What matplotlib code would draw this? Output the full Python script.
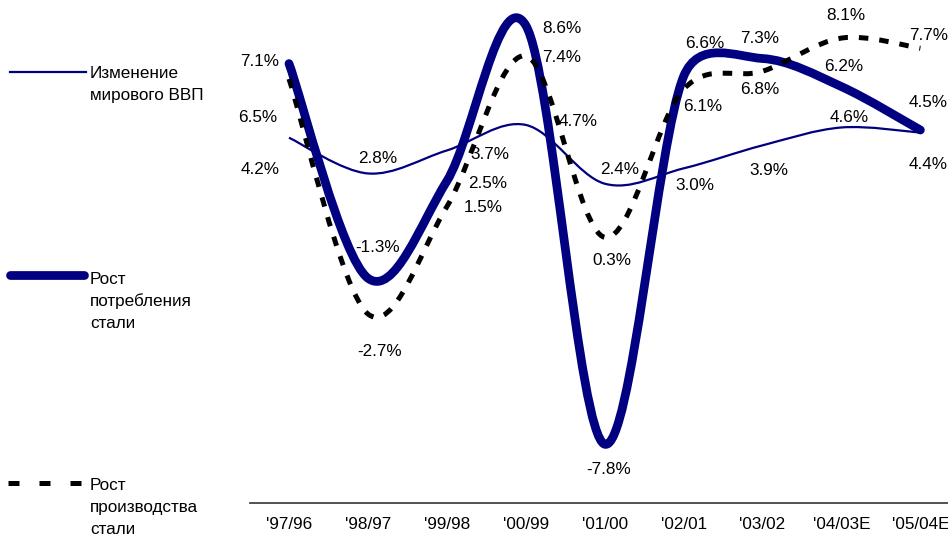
import matplotlib
matplotlib.use("Agg")
import math
import matplotlib.pyplot as plt
from matplotlib.path import Path
from matplotlib.patches import PathPatch
from matplotlib.lines import Line2D

plt.rcParams['font.family'] = ['Liberation Sans', 'DejaVu Sans']

categories = ["'97/96", "'98/97", "'99/98", "'00/99", "'01/00", "'02/01", "'03/02", "'04/03E", "'05/04E"]
gdp = [4.2, 2.8, 3.7, 4.7, 2.4, 3.0, 3.9, 4.6, 4.4]
consumption = [7.1, -1.3, 2.5, 8.6, -7.8, 6.6, 7.3, 6.2, 4.5]
production = [6.5, -2.7, 1.5, 7.4, 0.3, 6.1, 6.8, 8.1, 7.7]

legend_gdp = "Изменение\nмирового ВВП"
legend_cons = "Рост\nпотребления\nстали"
legend_prod = "Рост\nпроизводства\nстали"

# label offsets in pixels (dx right, dy down)
off_gdp = [(-29, 32), (10, -15), (43, 4), (52, -3), (15, -14), (11, 17), (6, 25), (8, -10), (8, 32)]
off_cons = [(-29, -2), (10, -31), (41, 2), (36, 3), (4, 25), (21, -33), (-3, -20), (2, -20), (8, -28)]
off_prod = [(-31, 39), (12, 38), (36, 1), (36, 2), (7, 23), (19, 17), (-3, 18), (4, -23), (8, -13)]

FS = 12.3
W, H = 948, 537
fig = plt.figure(figsize=(W / 100, H / 100), dpi=100)
ax = fig.add_axes([250 / W, (H - 503) / H, (W - 250) / W, 503 / H])
ax.set_xlim(-0.494, 8.35)
ax.set_ylim(-10.1, 9.59)
for s in ['top', 'right', 'left']:
    ax.spines[s].set_visible(False)
ax.spines['bottom'].set_color('#444444')
ax.spines['bottom'].set_linewidth(1.3)
ax.set_yticks([])
ax.set_xticks(range(len(categories)))
ax.set_xticklabels(categories, fontsize=FS)
ax.tick_params(axis='x', length=0, pad=10)


def smooth_path(xs, ys):
    # Excel-like smoothing: Catmull-Rom Bezier (1/6) with control length capped at half the segment
    tr = ax.transData
    P = [tuple(p) for p in tr.transform(list(zip(xs, ys)))]
    n = len(P)

    def dist(a, b):
        return math.hypot(b[0] - a[0], b[1] - a[1])

    verts = [P[0]]
    codes = [Path.MOVETO]
    for i in range(n - 1):
        p0 = P[i - 1] if i > 0 else P[i]
        p1 = P[i]
        p2 = P[i + 1]
        p3 = P[i + 2] if i + 2 < n else P[i + 1]
        d12 = dist(p1, p2)
        d02 = dist(p0, p2)
        d13 = dist(p1, p3)
        f0 = 1 / 6
        f3 = 1 / 6
        if d02 > 0 and d02 / 6 >= d12 / 2:
            f0 = d12 / d02 / 2
        if d13 > 0 and d13 / 6 >= d12 / 2:
            f3 = d12 / d13 / 2
        c1 = (p1[0] + (p2[0] - p0[0]) * f0, p1[1] + (p2[1] - p0[1]) * f0)
        c2 = (p2[0] - (p3[0] - p1[0]) * f3, p2[1] - (p3[1] - p1[1]) * f3)
        verts += [c1, c2, p2]
        codes += [Path.CURVE4] * 3
    inv = tr.inverted()
    return Path(inv.transform(verts), codes)


xs = list(range(len(categories)))
navy = '#000080'

ax.add_patch(PathPatch(smooth_path(xs, gdp), fill=False, edgecolor=navy, lw=1.6, zorder=2))
ax.add_patch(PathPatch(smooth_path(xs, consumption), fill=False, edgecolor=navy, lw=6.3,
                       capstyle='round', joinstyle='round', zorder=3))
ax.add_patch(PathPatch(smooth_path(xs, production), fill=False, edgecolor='black', lw=3.6,
                       linestyle=(0, (1.9, 2.2)), capstyle='butt', zorder=4))

for series, offs in ((gdp, off_gdp), (consumption, off_cons), (production, off_prod)):
    for i, (v, (dx, dy)) in enumerate(zip(series, offs)):
        ax.annotate(f"{v:.1f}%", xy=(i, v), xytext=(dx, -dy), textcoords='offset pixels',
                    ha='center', va='center', fontsize=FS, color='black', zorder=5)


def fx(x):
    return x / W


def fy(y):
    return 1 - y / H


fig.add_artist(Line2D([fx(10), fx(86)], [fy(72), fy(72)], color=navy, lw=1.6))
fig.add_artist(Line2D([fx(10), fx(84)], [fy(275), fy(275)], color=navy, lw=6.3, solid_capstyle='round'))
fig.add_artist(Line2D([fx(8), fx(81)], [fy(483), fy(483)], color='black', lw=3.6,
                      linestyle=(0, (2.2, 4.0)), dash_capstyle='butt'))

for text, ytop in ((legend_gdp, 73), (legend_cons, 279), (legend_prod, 485)):
    for k, line in enumerate(text.split("\n")):
        fig.text(fx(90), fy(ytop + k * 22.5), line, ha='left', va='center', fontsize=FS, color='black')

fig.savefig("out.png", dpi=100)
